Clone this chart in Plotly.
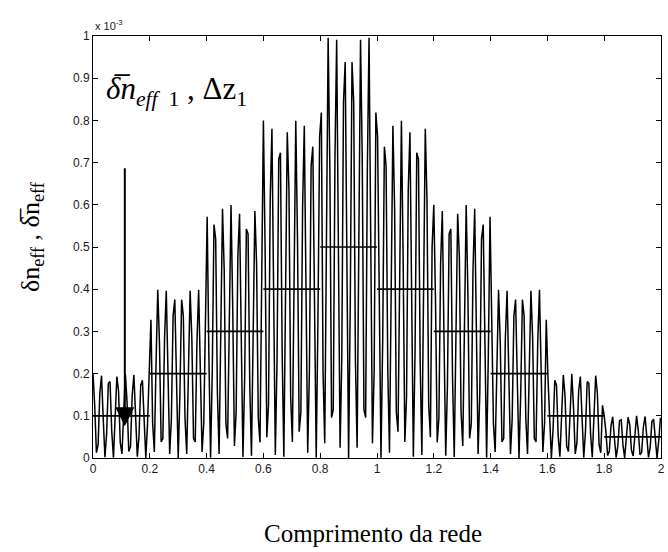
import numpy as np
import plotly.graph_objects as go

# Piecewise-uniform grating: section edges along the grating and the mean
# index change of each section (values in units of 1e-3)
section_edges = [0.0, 0.2, 0.4, 0.6, 0.8, 1.0, 1.2, 1.4, 1.6, 1.8, 2.0]
mean_dn = [0.1, 0.2, 0.3, 0.4, 0.5, 0.4, 0.3, 0.2, 0.1, 0.05]

# Grating period and sampling step of the index profile
grating_period = 0.2 / 7
sample_step = 0.006

x_ticks = [0, 0.2, 0.4, 0.6, 0.8, 1, 1.2, 1.4, 1.6, 1.8, 2]
y_ticks = [0, 0.1, 0.2, 0.3, 0.4, 0.5, 0.6, 0.7, 0.8, 0.9, 1]

# Sampled index profile: dn(z) = mean_dn(z) * (1 + cos(2*pi*z/period))
n_samples = int(np.floor(section_edges[-1] / sample_step + 1e-9)) + 1
z = np.arange(n_samples) * sample_step
idx = np.clip(np.searchsorted(section_edges, z + 1e-9, side="right") - 1, 0, len(mean_dn) - 1)
dn_mean_z = np.array(mean_dn)[idx]
dn = dn_mean_z * (1 + np.cos(2 * np.pi * z / grating_period))

# Horizontal segments for the section means
mx, my = [], []
for k, m in enumerate(mean_dn):
    mx += [section_edges[k], section_edges[k + 1], None]
    my += [m, m, None]

fig = go.Figure()
fig.add_trace(go.Scatter(x=z, y=dn, mode="lines",
                         line=dict(color="black", width=1.5),
                         hoverinfo="skip", showlegend=False))
fig.add_trace(go.Scatter(x=mx, y=my, mode="lines",
                         line=dict(color="black", width=1.7),
                         hoverinfo="skip", showlegend=False))

axis_common = dict(showline=True, linecolor="black", linewidth=1, mirror="ticks",
                   ticks="inside", ticklen=5, tickcolor="black", showgrid=False,
                   zeroline=False, ticklabeloverflow="allow",
                   tickfont=dict(family="Liberation Sans, Arial", size=12, color="#1a1a1a"))

fig.update_xaxes(range=[0, 2], tickvals=x_ticks,
                 ticktext=[("%g" % v) for v in x_ticks], **axis_common)
fig.update_yaxes(range=[0, 1], tickvals=y_ticks,
                 ticktext=[("%g" % v) for v in y_ticks], **axis_common)

serif = "Liberation Serif, Times New Roman, serif"
fig.update_layout(
    width=668, height=552,
    margin=dict(l=93, r=3, t=36, b=94),
    paper_bgcolor="white", plot_bgcolor="white",
    showlegend=False,
    annotations=[
        # exponent of the y axis
        dict(xref="paper", yref="paper", x=0, y=1, xanchor="left", yanchor="bottom",
             yshift=2, text="x 10<sup>-3</sup>", showarrow=False,
             font=dict(family="Liberation Sans, Arial", size=11, color="#1a1a1a")),
        # x-axis title
        dict(xref="paper", yref="paper", x=0.493, y=0, yshift=-60, xanchor="center",
             yanchor="top", text="Comprimento da rede", showarrow=False,
             font=dict(family=serif, size=25, color="black")),
        # y-axis title
        dict(xref="paper", yref="paper", x=0, xshift=-61, y=0.5, yshift=10,
             xanchor="center", yanchor="middle", textangle=-90,
             text="δn<sub>eff</sub> , δ\u0305n<sub>eff</sub>", showarrow=False,
             font=dict(family=serif, size=26, color="black")),
        # label of the first section
        dict(x=0.04, y=0.87, xref="x", yref="y", xanchor="left", yanchor="middle",
             text="<i>δ\u0305n<sub>eff</sub></i><sub>&nbsp;&nbsp;1</sub> , Δz<sub>1</sub>",
             showarrow=False, font=dict(family=serif, size=31, color="black")),
        # arrow pointing to the first section mean
        dict(x=0.112, y=0.075, xref="x", yref="y", ax=0.112, ay=0.69,
             axref="x", ayref="y", text="", showarrow=True, arrowhead=2,
             arrowsize=1.9, arrowwidth=2, arrowcolor="black"),
    ],
)

fig.write_html("out.html")
